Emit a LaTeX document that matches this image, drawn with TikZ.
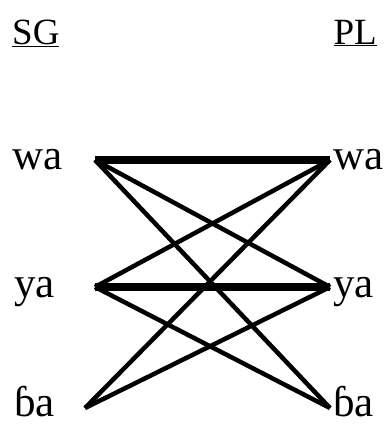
\documentclass[tikz,border=0pt]{standalone}
\usepackage{fontspec}
\setmainfont{Liberation Serif}
\usepackage{tikz}

\begin{document}
\begin{tikzpicture}[x=1pt, y=-1pt,
    every node/.style={font=\fontsize{43}{46}\selectfont, inner sep=0pt},
    head/.style={font=\fontsize{37}{40}\selectfont},
    heavy/.style={line width=7.5pt},
    light/.style={line width=4.5pt}]
      \useasboundingbox (0,0) rectangle (390,426);
      % column heads
      \node[head, anchor=base west] (sg) at (12,44) {\underline{SG}};
      \node[head, anchor=base east] (pl) at (377,44) {\underline{PL}};
      % singular forms
      \node[anchor=base east] (sgwa) at (63,169) {wa};
      \node[anchor=base east] (sgya) at (55,297) {ya};
      \node[anchor=base east] (sgba) at (55,416) {ɓa};
      % plural forms
      \node[anchor=base west] (plwa) at (333,169) {wa};
      \node[anchor=base west] (plya) at (333,297) {ya};
      \node[anchor=base west] (plba) at (333,416) {ɓa};
      % line ends
      \coordinate (lwa) at (95,160);
      \coordinate (lya) at (95,287);
      \coordinate (lba) at (85,408);
      \coordinate (rwa) at (330,160);
      \coordinate (rya) at (330,287);
      \coordinate (rba) at (330,408);
      % same form
      \draw[heavy] (lwa) -- (rwa);
      \draw[heavy] (lya) -- (rya);
      % other forms
      \draw[light] (lwa) -- (rya);
      \draw[light] (lwa) -- (rba);
      \draw[light] (lya) -- (rwa);
      \draw[light] (lya) -- (rba);
      \draw[light] (lba) -- (rwa);
      \draw[light] (lba) -- (rya);
\end{tikzpicture}
\end{document}
